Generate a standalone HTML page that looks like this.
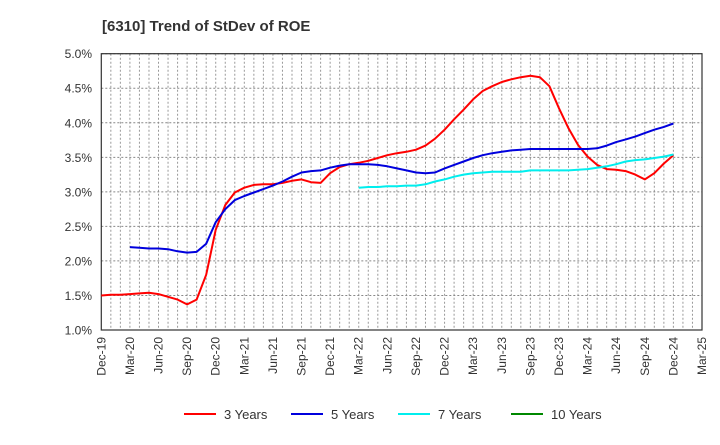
<!DOCTYPE html>
<html><head><meta charset="utf-8"><style>
body{margin:0;background:#fff;font-family:"Liberation Sans",sans-serif}
</style></head><body>
<svg id="c" width="720" height="440" xmlns="http://www.w3.org/2000/svg" font-family="Liberation Sans, sans-serif">
<text x="102" y="31" font-size="15" font-weight="bold" fill="#333">[6310]  Trend of StDev of ROE</text>
</svg>
<script>
const xLabels=["Dec-19","Mar-20","Jun-20","Sep-20","Dec-20","Mar-21","Jun-21","Sep-21","Dec-21","Mar-22","Jun-22","Sep-22","Dec-22","Mar-23","Jun-23","Sep-23","Dec-23","Mar-24","Jun-24","Sep-24","Dec-24","Mar-25"];
const yTicks=[1.0,1.5,2.0,2.5,3.0,3.5,4.0,4.5,5.0];
const seriesNames=["3 Years","5 Years","7 Years","10 Years"];
const seriesColors=["#ff0000","#0000dd","#00eeee","#008800"];
// monthly values starting Dec-19 (index 0)
const s3=[1.50,1.51,1.51,1.52,1.53,1.54,1.52,1.48,1.44,1.37,1.44,1.80,2.45,2.81,2.99,3.06,3.10,3.11,3.11,3.13,3.16,3.18,3.14,3.13,3.27,3.36,3.40,3.42,3.45,3.49,3.53,3.56,3.58,3.61,3.67,3.77,3.90,4.05,4.19,4.34,4.46,4.53,4.59,4.63,4.66,4.68,4.66,4.53,4.21,3.92,3.68,3.51,3.39,3.33,3.32,3.30,3.25,3.18,3.27,3.41,3.53];
const s5=[null,null,null,2.20,2.19,2.18,2.18,2.17,2.14,2.12,2.13,2.25,2.56,2.75,2.88,2.94,2.99,3.04,3.09,3.15,3.22,3.28,3.30,3.31,3.35,3.38,3.40,3.40,3.40,3.39,3.37,3.34,3.31,3.28,3.27,3.28,3.34,3.39,3.44,3.49,3.53,3.56,3.58,3.60,3.61,3.62,3.62,3.62,3.62,3.62,3.62,3.62,3.63,3.67,3.72,3.76,3.80,3.85,3.90,3.94,3.99];
const s7=[null,null,null,null,null,null,null,null,null,null,null,null,null,null,null,null,null,null,null,null,null,null,null,null,null,null,null,3.06,3.07,3.07,3.08,3.08,3.09,3.09,3.11,3.15,3.18,3.22,3.25,3.27,3.28,3.29,3.29,3.29,3.29,3.31,3.31,3.31,3.31,3.31,3.32,3.33,3.35,3.37,3.40,3.44,3.46,3.47,3.49,3.51,3.54];
const s10=[];
const NS="http://www.w3.org/2000/svg",svg=document.getElementById('c');
const L=101.3,R=702,T=53.7,B=330,yMin=1,yMax=5,nMonths=63;
const xs=m=>L+(R-L)*m/nMonths;
const ys=v=>B-(B-T)*(v-yMin)/(yMax-yMin);
function mk(t,a){const e=document.createElementNS(NS,t);for(const k in a)e.setAttribute(k,a[k]);svg.appendChild(e);return e;}
for(let m=1;m<nMonths;m++){const g=mk('line',{x1:xs(m),x2:xs(m),y1:T,y2:B,stroke:'#999','stroke-dasharray':'2,2','stroke-width':1});

}
yTicks.forEach(v=>{const g=mk('line',{x1:L,x2:R,y1:ys(v),y2:ys(v),stroke:'#888','stroke-dasharray':'2,2','stroke-width':1});


const t=mk('text',{x:92,y:ys(v)+4.5,'text-anchor':'end','font-size':12,fill:'#333'});t.textContent=v.toFixed(1)+'%';

});
xLabels.forEach((s,i)=>{const x=xs(i*3);const t=mk('text',{transform:`translate(${x+4},337) rotate(-90)`,'text-anchor':'end','font-size':12,fill:'#333'});t.textContent=s;

});
const fr=mk('rect',{x:L,y:T,width:R-L,height:B-T,fill:'none',stroke:'#333','stroke-width':1.2});


[s3,s5,s7,s10].forEach((s,i)=>{let d='';let pen=false;s.forEach((v,m)=>{if(v==null){pen=false;return;}d+=(pen?'L':'M')+xs(m).toFixed(1)+','+ys(v).toFixed(1);pen=true;});
if(!d)return;const p=mk('path',{d,fill:'none',stroke:seriesColors[i],'stroke-width':2,'stroke-linejoin':'round'});

});
const lx=[184,291,398,511];
seriesNames.forEach((n,i)=>{const l=mk('line',{x1:lx[i],x2:lx[i]+32,y1:414,y2:414,stroke:seriesColors[i],'stroke-width':2});


const t=mk('text',{x:lx[i]+40,y:419,'font-size':13,fill:'#333'});t.textContent=n;

});
</script>
</body></html>
